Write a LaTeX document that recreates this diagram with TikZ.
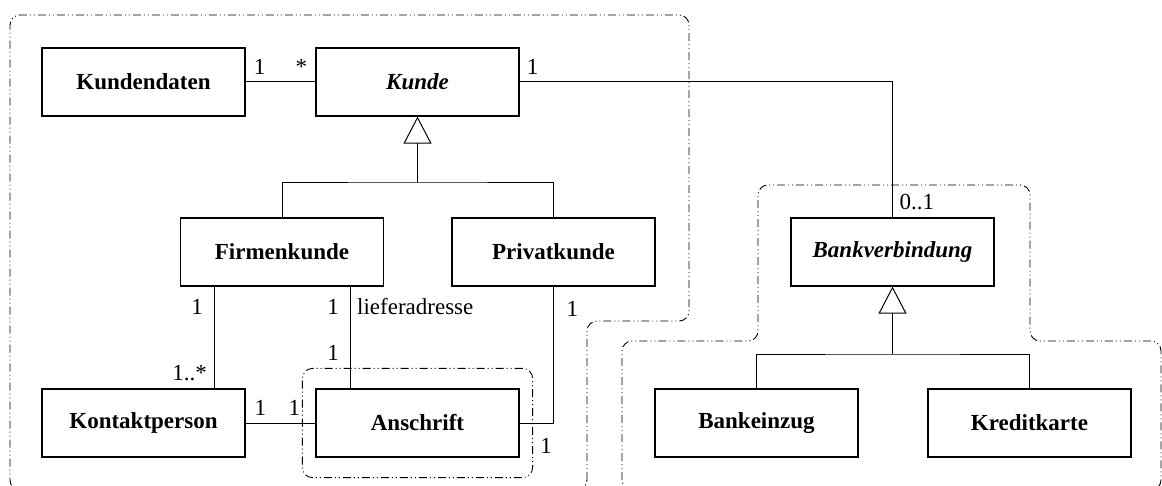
\documentclass[tikz,border=0pt]{standalone}
\usepackage{fontspec}
\setmainfont{Liberation Serif}
\usetikzlibrary{positioning,fit,arrows.meta}

\begin{document}
\begin{tikzpicture}[x=0.5pt,y=-0.5pt,line width=0.5pt,
  font=\fontsize{11.5}{13}\selectfont,
  cls/.style={draw,line width=0.6pt,minimum width=101.5pt,minimum height=34pt,
    font=\fontsize{11.5}{13}\selectfont\bfseries},
  acls/.style={cls,font=\fontsize{11.5}{13}\selectfont\bfseries\itshape},
  group/.style={line width=0.45pt,rounded corners=5pt,
    dash pattern=on 4pt off 1.5pt on 0.5pt off 1.5pt on 0.5pt off 1.5pt},
  inherit/.style={-{Triangle[open,length=13.5pt,width=14pt]}}
]
\useasboundingbox (0,0) rectangle (1162,486);
\clip (0,0) rectangle (1162,486);

% the classes
\node[cls]  (KD) at (143.5,82)  {Kundendaten};
\node[acls] (K)  at (417.5,82)  {Kunde};
\node[cls]  (FK) at (282,252)   {Firmenkunde};
\node[cls]  (PK) at (553.5,252) {Privatkunde};
\node[cls]  (KP) at (143.5,423) {Kontaktperson};
\node[cls]  (AS) at (417.5,423) {Anschrift};
\node[acls] (BV) at (892.5,252) {Bankverbindung};
\node[cls]  (BE) at (756.5,423) {Bankeinzug};
\node[cls]  (KK) at (1029.5,423) {Kreditkarte};

% the groups
\node[group,draw,fit=(AS),inner xsep=6.5pt,inner ysep=10pt] (ASgrp) {};
\draw[group] (587,490) -- (587,321) -- (689,321) -- (689,15) -- (10,15) -- (10,490) -- cycle;
\draw[group] (622,490) -- (622,341) -- (758,341) -- (758,185) -- (1030,185)
  -- (1030,341) -- (1161,341) -- (1161,490) -- cycle;

% the associations
\draw (KD) -- node[above,pos=0.2] (m1) {1} node[above,pos=0.8] (m2) {*} (K);
\draw (K.east) -| node[above right,pos=0] (m3) {1} node[above right,pos=1] (m4) {0..1} (BV.north);
\draw ([xshift=-34pt]FK.south) -- node[left=2pt,pos=0.2] (m5) {1}
  node[left,pos=0.845] (m6) {1..*} ([xshift=-34pt]FK.south |- KP.north);
\draw ([xshift=34pt]FK.south) -- node[left=2pt,pos=0.2] (m7) {1}
  node[right,pos=0.2] (m8) {lieferadresse}
  node[left=2pt,pos=0.65] (m9) {1} ([xshift=34pt]FK.south |- AS.north);
\draw (PK.south) |- node[right=3pt,pos=0.08] (m10) {1}
  node[below=4pt,pos=0.61] (m11) {1} (AS.east);
\draw (KP) -- node[above,pos=0.21] (m12) {1} node[above,pos=0.7] (m13) {1} (AS);

% the generalisations
\coordinate (kbar) at (417.5,183);
\draw (FK.north) |- (kbar) -| (PK.north);
\draw[inherit] (kbar) -- (K.south);
\coordinate (bbar) at (892.5,354);
\draw (BE.north) |- (bbar) -| (KK.north);
\draw[inherit] (bbar) -- (BV.south);

\end{tikzpicture}
\end{document}
